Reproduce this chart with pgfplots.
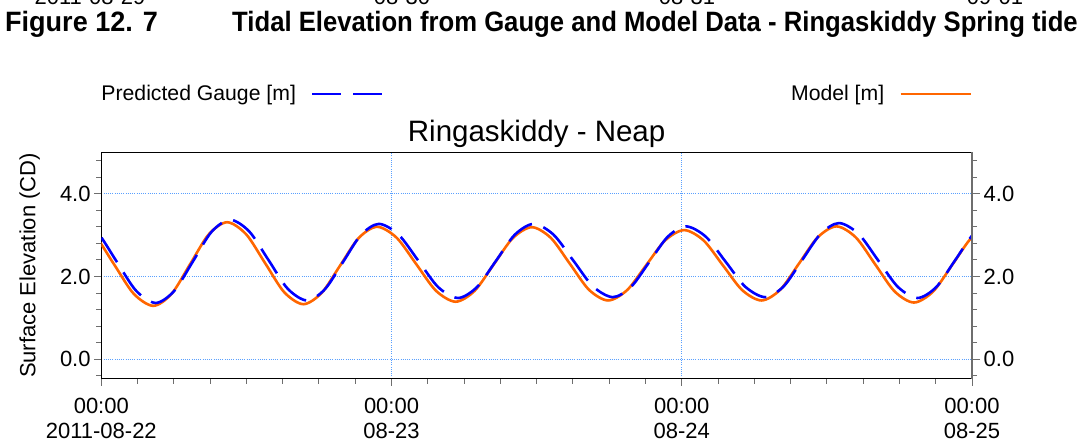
\documentclass[border=0pt]{standalone}
\usepackage{fontspec}
\setmainfont{Liberation Sans}
\usepackage{graphicx}
\usepackage{pgfplots}
\pgfplotsset{compat=1.18}
\definecolor{gaugeblue}{RGB}{0,0,255}
\definecolor{modelorange}{RGB}{255,102,0}
\definecolor{gridblue}{RGB}{90,160,255}
\definecolor{tickgray}{RGB}{110,110,110}
\pgfplotsset{
  commonaxis/.style={
    scale only axis, width=870.7pt, height=226.4pt,
    at={(101.3pt,64.3pt)}, anchor=south west,
    xmin=0, xmax=72, ymin=-0.47, ymax=5.0,
    ytick={0,2,4}, yticklabels={0.0,2.0,4.0},
    minor ytick={-0.4,0.4,0.8,1.2,1.6,2.4,2.8,3.2,3.6,4.4,4.8},
    tick align=outside,
    major tick length=7pt, minor tick length=5pt,
    tick style={draw=tickgray, line width=1pt},
    yticklabel style={font=\fontsize{22}{25}\selectfont, inner sep=0pt},
    yticklabel shift=3.5pt,
    legend plot pos=right,
    legend image code/.code={\draw[##1, dash phase=0pt] (0pt,0pt) -- (70pt,0pt);},
  },
}
\begin{document}
\begin{tikzpicture}
% cut-off labels of the chart above
\node[anchor=base, inner sep=0pt, font=\fontsize{22}{25}\selectfont] at (90pt,438.5pt) {2011-08-29};
\node[anchor=base, inner sep=0pt, font=\fontsize{22}{25}\selectfont] at (402pt,438.5pt) {08-30};
\node[anchor=base, inner sep=0pt, font=\fontsize{22}{25}\selectfont] at (687pt,438.5pt) {08-31};
\node[anchor=base, inner sep=0pt, font=\fontsize{22}{25}\selectfont] at (995pt,438.5pt) {09-01};
% figure caption
\node[anchor=base west, inner sep=0pt] at (5pt,411pt) {\scalebox{0.965}[1]{\fontsize{28}{30}\selectfont\bfseries Figure 12. 7}};
\node[anchor=base west, inner sep=0pt] at (232pt,411pt) {\scalebox{0.917}[1]{\fontsize{28}{30}\selectfont\bfseries Tidal Elevation from Gauge and Model Data - Ringaskiddy Spring tide}};

\begin{axis}[
  commonaxis,
  xtick={0,24,48,72},
  xticklabels={{00:00\\2011-08-22},{00:00\\08-23},{00:00\\08-24},{00:00\\08-25}},
  minor xtick={0,3,...,72},
  xtick pos=left, ytick pos=left,
  grid=major,
  major grid style={draw=gridblue, dash pattern=on 1pt off 1.2pt, line width=1pt},
  axis line style={black, line width=1.2pt},
  xticklabel style={align=center, font=\fontsize{22}{25}\selectfont, inner sep=0pt, yshift=-12pt},
  ylabel={Surface Elevation (CD)},
  ylabel style={at={(axis description cs:-0.0756,0.5)}, anchor=base, font=\fontsize{22}{25}\selectfont, inner sep=0pt},
  title={Ringaskiddy - Neap},
  title style={at={(0.5,1)}, anchor=base, yshift=4.3pt, font=\fontsize{29.5}{31}\selectfont, inner sep=0pt},
  legend style={at={(0,1.258)}, anchor=west, draw=none, fill=none, inner sep=0pt, nodes={inner sep=0pt}, column sep=15pt, font=\fontsize{21.2}{23}\selectfont},
]
\addplot[modelorange, line width=2.6pt, smooth, forget plot] coordinates {
(-2.2,3.30) (-0.575,3.006) (1.05,2.295) (2.675,1.584) (4.3,1.29)
(5.825,1.586) (7.35,2.30) (8.875,3.014) (10.4,3.31)
(11.975,3.020) (13.55,2.32) (15.125,1.620) (16.7,1.33)
(18.225,1.604) (19.75,2.265) (21.275,2.926) (22.8,3.20)
(24.425,2.935) (26.05,2.295) (27.675,1.655) (29.3,1.39)
(30.875,1.654) (32.45,2.29) (34.025,2.926) (35.6,3.19)
(37.175,2.931) (38.75,2.305) (40.325,1.679) (41.9,1.42)
(43.475,1.669) (45.05,2.27) (46.625,2.871) (48.2,3.12)
(49.8,2.871) (51.4,2.27) (53.0,1.669) (54.6,1.42)
(56.15,1.682) (57.7,2.315) (59.25,2.948) (60.8,3.21)
(62.4,2.941) (64.0,2.29) (65.6,1.639) (67.2,1.37)
(68.8,1.641) (70.4,2.295) (72.0,2.949) (73.6,3.22)
};
\addplot[gaugeblue, line width=2.6pt, dash pattern=on 29pt off 12pt, dash phase=10pt, smooth] coordinates {
(-2.0,3.38) (-0.375,3.084) (1.25,2.37) (2.875,1.656) (4.5,1.36)
(6.04,1.654) (7.58,2.365) (9.11,3.076) (10.65,3.37)
(12.24,3.085) (13.83,2.395) (15.41,1.705) (17.0,1.42)
(18.49,1.691) (19.98,2.345) (21.46,2.999) (22.95,3.27)
(24.59,3.008) (26.23,2.375) (27.86,1.742) (29.5,1.48)
(31.06,1.742) (32.63,2.375) (34.19,3.008) (35.75,3.27)
(37.39,3.011) (39.03,2.385) (40.66,1.759) (42.3,1.50)
(43.81,1.750) (45.33,2.355) (46.84,2.960) (48.35,3.21)
(49.99,2.960) (51.63,2.355) (53.26,1.750) (54.9,1.50)
(56.43,1.762) (57.95,2.395) (59.48,3.028) (61.0,3.29)
(62.63,3.025) (64.25,2.385) (65.88,1.745) (67.5,1.48)
(69.05,1.746) (70.6,2.39) (72.15,3.034) (73.7,3.30)
};
\addlegendentry{Predicted Gauge [m]}
\end{axis}

\begin{axis}[
  commonaxis,
  axis x line=none,
  axis y line*=right,
  y axis line style={-, tickgray, line width=2pt},
  major tick length=8pt,
  legend style={at={(1,1.258)}, anchor=east, draw=none, fill=none, inner sep=0pt, nodes={inner sep=0pt}, column sep=15pt, font=\fontsize{21.2}{23}\selectfont},
]
\addlegendimage{modelorange, line width=2.6pt}
\addlegendentry{Model [m]}
\end{axis}

\pgfresetboundingbox
\path[use as bounding box] (0pt,0pt) rectangle (1084pt,443pt);
\end{tikzpicture}
\end{document}
